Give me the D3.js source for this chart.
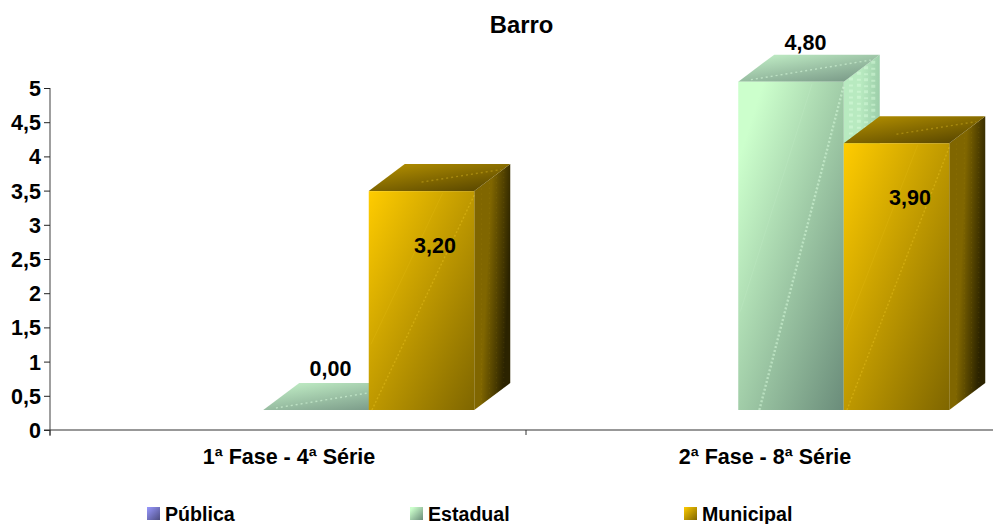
<!DOCTYPE html>
<html><head><meta charset="utf-8">
<script src="https://cdn.jsdelivr.net/npm/d3@7/dist/d3.min.js"></script>
<style>html,body{margin:0;padding:0;background:#fff}svg{display:block}text{font-family:"Liberation Sans",Arial,sans-serif;font-weight:bold;fill:#000}</style>
</head><body><script>
const title = "Barro";
const categories = ["1ª Fase - 4ª Série", "2ª Fase - 8ª Série"];
const seriesNames = ["Pública", "Estadual", "Municipal"];
const publica = [null, null];
const estadual = [0.0, 4.8];
const municipal = [3.2, 3.9];
const yTicks = [0, 0.5, 1, 1.5, 2, 2.5, 3, 3.5, 4, 4.5, 5];

const W = 993, H = 524;
const svg = d3.select("body").append("svg").attr("width", W).attr("height", H);
const defs = svg.append("defs");

const palette = {
  "Pública":   {front:["#9999ff","#4d4d80"], top:["#7a7acc","#3d3d66"], side:["#5c5c99","#26263f"], streak:"#c8c8ff"},
  "Estadual":  {front:["#ccffcc","#6a8c7a"], top:["#c6f4ca","#7a9a88"], side:["#b8eac0","#98caa6"], streak:"#dcffe0"},
  "Municipal": {front:["#ffcc00","#7f6600"], top:["#b89300","#594700"], side:["#806600","#2b2300"], streak:"#ffd830"}
};
function grad(id, c, x1, y1, x2, y2, mid){
  const g = defs.append("linearGradient").attr("id", id).attr("x1",x1).attr("y1",y1).attr("x2",x2).attr("y2",y2);
  g.append("stop").attr("offset",0).attr("stop-color",c[0]);
  if (mid) g.append("stop").attr("offset",mid).attr("stop-color",c[0]);
  g.append("stop").attr("offset",1).attr("stop-color",c[1]);
}
seriesNames.forEach((s,i)=>{
  grad("f"+i, palette[s].front, 0, 0, 1, 1, s === "Estadual" ? 0.12 : 0);
  grad("t"+i, palette[s].top, 0, 0, 0.8, 1);
  grad("s"+i, palette[s].side, 0, 0, 1, 0.35, 0.45);
});

// scales
const x = d3.scaleBand().domain(categories).range([50, 1002]);
const xBars = d3.scaleBand().domain(categories).range([50, 1000]);
const y = d3.scaleLinear().domain([0,5]).range([430, 88]);
const floorLift = 20, groupShift = 28.5, dx = 36, dy = 27;
const inner = d3.scaleBand().domain(seriesNames).range([0, 316.5]);
const barLeft = (c,s) => xBars(c) + xBars.bandwidth()/2 + groupShift - 158.25 + inner(s);

// axes
const fs = "21.5px";
const gy = svg.append("g").attr("transform","translate(50,0)")
  .call(d3.axisLeft(y).tickValues(yTicks).tickSize(6).tickPadding(3)
    .tickFormat(d => String(d).replace(".", ",")));
gy.selectAll("text").style("font-size",fs).attr("dy","0.35em");
gy.select(".domain").attr("stroke","#7f7f7f").attr("stroke-width",1.5).attr("d","M0,88V436");
gy.selectAll(".tick line").attr("stroke","#222");
const gx = svg.append("g").attr("transform","translate(0,430)")
  .call(d3.axisBottom(x).tickValues([]).tickSize(0));
gx.select(".domain").attr("stroke","#333").attr("stroke-width",1.2).attr("d","M44,0H993");
gx.selectAll(".bt").data(categories).enter().append("line").attr("class","bt")
  .attr("x1",d=>x(d)).attr("x2",d=>x(d)).attr("y1",0).attr("y2",5).attr("stroke","#333");
gx.selectAll(".cat").data(categories).enter().append("text").attr("class","cat")
  .attr("x",d=>x(d)+x.bandwidth()/2+1).attr("y",26).attr("text-anchor","middle")
  .style("font-size",fs).attr("dy","0.35em").text(d=>d);

// bars
const seriesValues = {"Pública":publica,"Estadual":estadual,"Municipal":municipal};
const labelOffset = {"Estadual":[14.5,-39.5],"Municipal":[13.5,54]};
const plot = svg.append("g");
const labels = svg.append("g");
seriesNames.forEach((s,si)=>{
  categories.forEach((c,ci)=>{
    const v = seriesValues[s][ci];
    if (v === null) return;
    const green = s === "Estadual";
    const x0 = barLeft(c,s), w = inner.bandwidth();
    const yB = y(0) - floorLift, yT = y(v) - floorLift;
    const g = plot.append("g");
    const streak = palette[s].streak;
    // side
    if (v > 0) {
      g.append("path").attr("fill",`url(#s${si})`)
        .attr("d",`M${x0+w},${yT}L${x0+w+dx},${yT-dy}V${yB-dy}L${x0+w},${yB}Z`);
      [0.2,0.42,0.62,0.82].forEach(f=>{
        g.append("line").attr("x1",x0+w+dx*f).attr("x2",x0+w+dx*f)
          .attr("y1",yB-dy*f).attr("y2",yT-dy*f)
          .attr("stroke",streak).attr("stroke-width", green?4:1)
          .attr("stroke-dasharray", green?"3 3 2 4":"1 4").attr("opacity", green?0.45:0.1);
      });
    }
    // top
    g.append("path").attr("fill",`url(#t${si})`)
      .attr("d",`M${x0},${yT}L${x0+dx},${yT-dy}H${x0+w+dx}L${x0+w},${yT}Z`);
    g.append("line").attr("x1",x0+(green?w*0.12:w*0.5)).attr("y1",yT-(green?2:9))
      .attr("x2",x0+w+dx*0.75).attr("y2",yT-dy*0.8)
      .attr("stroke",streak).attr("stroke-width",1.4).attr("stroke-dasharray","2 3").attr("opacity",green?0.55:0.3);
    // front
    if (v > 0) {
      g.append("rect").attr("x",x0).attr("y",yT).attr("width",w).attr("height",yB-yT).attr("fill",`url(#f${si})`);
      g.append("line").attr("x1",x0+(green?w*0.2:w*0.03)).attr("y1",yB).attr("x2",x0+w).attr("y2",yT+4)
        .attr("stroke",streak).attr("stroke-width",green?2.4:1.4).attr("stroke-dasharray","2 2").attr("opacity",green?0.5:0.3);
      g.append("line").attr("x1",x0+w*0.02).attr("y1",yB-(yB-yT)*0.3).attr("x2",x0+w*0.7).attr("y2",yT+2)
        .attr("stroke",streak).attr("stroke-width",1).attr("opacity",0.12);
    }
    const off = labelOffset[s];
    labels.append("text").attr("x",x0+w/2+off[0]).attr("y",yT+off[1]-(v===0?2.5:0)).attr("text-anchor","middle")
      .attr("dy","0.35em").style("font-size",fs).text(d3.format(".2f")(v).replace(".",","));
  });
});

// title
svg.append("text").attr("x",521.5).attr("y",25).attr("text-anchor","middle").attr("dy","0.35em")
  .style("font-size","23.8px").text(title);

// legend
const legendX = d3.scaleOrdinal().domain(seriesNames).range([147,410,684]);
const lg = svg.append("g").selectAll("g").data(seriesNames).enter().append("g")
  .attr("transform",d=>`translate(${legendX(d)},507)`);
lg.append("rect").attr("width",13).attr("height",13).attr("fill",(d,i)=>`url(#f${i})`);
lg.append("text").attr("x",18).attr("y",7).attr("dy","0.35em").style("font-size","19.6px").text(d=>d);
</script></body></html>
